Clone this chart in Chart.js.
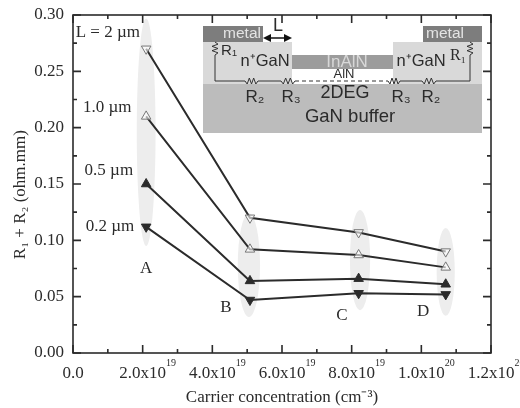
<!DOCTYPE html>
<html>
<head>
<meta charset="utf-8">
<style>
  html, body { margin: 0; padding: 0; background: #fff; }
  canvas { display: block; filter: blur(0.55px); }
</style>
<script src="https://cdn.jsdelivr.net/npm/chart.js@4"></script>
</head>
<body>
<canvas id="chart" width="520" height="408"></canvas>
<script>
const carrier = [2.1e19, 5.08e19, 8.2e19, 1.07e20];
const length2um = [0.27, 0.12, 0.107, 0.09];
const length1um = [0.21, 0.092, 0.087, 0.076];
const length05um = [0.15, 0.064, 0.066, 0.061];
const length02um = [0.112, 0.047, 0.053, 0.052];

const xTicks = [0, 2e19, 4e19, 6e19, 8e19, 1e20, 1.2e20];
const xTickLabels = ['0.0', '2.0x10', '4.0x10', '6.0x10', '8.0x10', '1.0x10', '1.2x10'];
const xTickPowers = ['', '19', '19', '19', '19', '20', '20'];
const yTicks = [0, 0.05, 0.1, 0.15, 0.2, 0.25, 0.3];
const yTickLabels = ['0.00', '0.05', '0.10', '0.15', '0.20', '0.25', '0.30'];

// grey groups A-D: [x, yTop, yBottom, xRadius]
const groups = [
    [2.1e19, 0.297, 0.095, 2.7e18],
    [5.05e19, 0.124, 0.032, 3.2e18],
    [8.24e19, 0.127, 0.038, 2.9e18],
    [1.07e20, 0.111, 0.033, 2.6e18]
];
const notes = [
    ['L = 2 µm', 1.0e19, 0.284],
    ['1.0 µm', 0.98e19, 0.218],
    ['0.5 µm', 1.03e19, 0.162],
    ['0.2 µm', 1.06e19, 0.112],
    ['A', 2.1e19, 0.0746],
    ['B', 4.39e19, 0.0408],
    ['C', 7.72e19, 0.0337],
    ['D', 1.005e20, 0.0364]
];

const ink = '#2b2b2b';
const serif = '"Liberation Serif", serif';
const sans = '"Liberation Sans", sans-serif';

function toPoints(values) {
    return values.map((v, i) => ({ x: carrier[i], y: v }));
}

function series(label, values, fill, rotation) {
    return {
        label: label,
        data: toPoints(values),
        borderColor: ink,
        borderWidth: 2,
        pointStyle: 'triangle',
        pointRadius: 5.5,
        pointRotation: rotation,
        pointBackgroundColor: fill,
        pointBorderColor: fill === ink ? ink : '#777',
        pointBorderWidth: 1
    };
}

// resistor symbol along a line
function zigzag(ctx, x1, y1, x2, y2) {
    const n = 6;
    ctx.beginPath();
    ctx.moveTo(x1, y1);
    for (let i = 1; i < n; i++) {
        const t = i / n;
        const off = i % 2 ? 3 : -3;
        const horizontal = y1 === y2;
        ctx.lineTo(x1 + (x2 - x1) * t + (horizontal ? 0 : off), y1 + (y2 - y1) * t + (horizontal ? off : 0));
    }
    ctx.lineTo(x2, y2);
    ctx.stroke();
}

function wire(ctx, pts) {
    ctx.beginPath();
    pts.forEach((p, i) => (i ? ctx.lineTo(p[0], p[1]) : ctx.moveTo(p[0], p[1])));
    ctx.stroke();
}

function label(ctx, text, x, y, font, color) {
    ctx.font = font;
    ctx.fillStyle = color || ink;
    ctx.fillText(text, x, y);
}

function drawInset(ctx) {
    ctx.save();
    ctx.fillStyle = '#bcbcbc';
    ctx.fillRect(203, 84, 279, 49);
    ctx.fillStyle = '#d9d9d9';
    ctx.fillRect(203, 42, 89, 42);
    ctx.fillRect(393, 42, 89, 42);
    ctx.fillStyle = '#7d7d7d';
    ctx.fillRect(203, 26, 60, 16);
    ctx.fillRect(423, 26, 59, 16);
    ctx.fillStyle = '#9c9c9c';
    ctx.fillRect(292, 55, 101, 14);

    ctx.textAlign = 'center';
    ctx.textBaseline = 'middle';
    label(ctx, 'metal', 242, 34, '15.5px ' + sans, '#e4e4e4');
    label(ctx, 'metal', 445, 34, '15.5px ' + sans, '#e4e4e4');
    label(ctx, 'InAlN', 347, 62, '17px ' + sans, '#d8d8d8');
    label(ctx, 'AlN', 344, 74, '13px ' + sans);
    label(ctx, 'n⁺GaN', 265, 61, '16.5px ' + sans);
    label(ctx, 'n⁺GaN', 421, 61, '16.5px ' + sans);
    label(ctx, 'R₁', 229, 51, '15px ' + sans);
    label(ctx, 'R₁', 458, 56, '16px ' + serif);
    label(ctx, 'R₂', 255, 97, '17px ' + sans);
    label(ctx, 'R₃', 291, 97, '17px ' + sans);
    label(ctx, '2DEG', 345, 93, '18px ' + sans);
    label(ctx, 'R₃', 401, 97, '17px ' + sans);
    label(ctx, 'R₂', 431, 97, '17px ' + sans);
    label(ctx, 'GaN buffer', 350, 117, '18.5px ' + sans);
    label(ctx, 'L', 278, 26, '18px ' + sans);

    ctx.strokeStyle = '#333';
    ctx.lineWidth = 1;
    wire(ctx, [[215, 55], [215, 81], [245, 81]]);
    zigzag(ctx, 245, 81, 258, 81);
    wire(ctx, [[258, 81], [281, 81]]);
    zigzag(ctx, 281, 81, 295, 81);
    ctx.setLineDash([4, 3]);
    wire(ctx, [[295, 81], [388, 81]]);
    ctx.setLineDash([]);
    zigzag(ctx, 388, 81, 400, 81);
    wire(ctx, [[400, 81], [422, 81]]);
    zigzag(ctx, 422, 81, 436, 81);
    wire(ctx, [[436, 81], [470, 81], [470, 55]]);
    zigzag(ctx, 215, 55, 215, 42);
    zigzag(ctx, 470, 55, 470, 42);

    // L arrow
    ctx.fillStyle = '#111';
    ctx.lineWidth = 1.5;
    ctx.strokeStyle = '#111';
    wire(ctx, [[266, 38], [289, 38]]);
    [[263, 38, 1], [292, 38, -1]].forEach(a => {
        ctx.beginPath();
        ctx.moveTo(a[0], a[1]);
        ctx.lineTo(a[0] + a[2] * 8, a[1] - 4);
        ctx.lineTo(a[0] + a[2] * 8, a[1] + 4);
        ctx.closePath();
        ctx.fill();
    });
    ctx.restore();
}

const groupsPlugin = {
    id: 'groups',
    beforeDatasetsDraw(chart) {
        const x = chart.scales.x, y = chart.scales.y, ctx = chart.ctx;
        ctx.save();
        ctx.fillStyle = '#ededed';
        groups.forEach(g => {
            const cx = x.getPixelForValue(g[0]);
            const top = y.getPixelForValue(g[1]);
            const bottom = y.getPixelForValue(g[2]);
            const rx = x.getPixelForValue(g[0] + g[3]) - cx;
            ctx.beginPath();
            ctx.ellipse(cx, (top + bottom) / 2, rx, (bottom - top) / 2, 0, 0, Math.PI * 2);
            ctx.fill();
        });
        ctx.restore();
    },
    afterDatasetsDraw(chart) {
        const x = chart.scales.x, y = chart.scales.y, ctx = chart.ctx;
        ctx.save();
        ctx.textAlign = 'center';
        ctx.textBaseline = 'middle';
        notes.forEach(n => {
            label(ctx, n[0], x.getPixelForValue(n[1]), y.getPixelForValue(n[2]), '17px ' + serif);
        });
        // powers of ten sit after the x tick labels
        ctx.textAlign = 'left';
        ctx.font = '17px ' + serif;
        const baseWidth = ctx.measureText(xTickLabels[1]).width;
        xTicks.forEach((v, i) => {
            if (xTickPowers[i]) {
                label(ctx, xTickPowers[i], x.getPixelForValue(v) + baseWidth / 2, 363, '10px ' + serif);
            }
        });
        ctx.restore();
        drawInset(ctx);
    }
};

// frame and inward ticks on all four sides
const framePlugin = {
    id: 'frame',
    afterDraw(chart) {
        const a = chart.chartArea, x = chart.scales.x, y = chart.scales.y, ctx = chart.ctx;
        ctx.save();
        ctx.strokeStyle = ink;
        ctx.lineWidth = 1.6;
        ctx.strokeRect(a.left, a.top, a.right - a.left, a.bottom - a.top);
        ctx.beginPath();
        for (let i = 0; i < xTicks.length; i++) {
            const px = x.getPixelForValue(xTicks[i]);
            ctx.moveTo(px, a.bottom); ctx.lineTo(px, a.bottom - 8);
            ctx.moveTo(px, a.top); ctx.lineTo(px, a.top + 8);
            if (i < xTicks.length - 1) {
                const mid = x.getPixelForValue((xTicks[i] + xTicks[i + 1]) / 2);
                ctx.moveTo(mid, a.bottom); ctx.lineTo(mid, a.bottom - 4);
                ctx.moveTo(mid, a.top); ctx.lineTo(mid, a.top + 4);
            }
        }
        for (let i = 0; i < yTicks.length; i++) {
            const py = y.getPixelForValue(yTicks[i]);
            ctx.moveTo(a.left, py); ctx.lineTo(a.left + 8, py);
            ctx.moveTo(a.right, py); ctx.lineTo(a.right - 8, py);
            if (i < yTicks.length - 1) {
                const mid = y.getPixelForValue((yTicks[i] + yTicks[i + 1]) / 2);
                ctx.moveTo(a.left, mid); ctx.lineTo(a.left + 4, mid);
                ctx.moveTo(a.right, mid); ctx.lineTo(a.right - 4, mid);
            }
        }
        ctx.stroke();
        ctx.restore();
    }
};

new Chart(document.getElementById('chart'), {
    type: 'line',
    data: {
        datasets: [
            series('L = 2 um', length2um, 'rgba(255,255,255,0.6)', 180),
            series('1.0 um', length1um, 'rgba(255,255,255,0.6)', 0),
            series('0.5 um', length05um, ink, 0),
            series('0.2 um', length02um, ink, 180)
        ]
    },
    plugins: [groupsPlugin, framePlugin],
    options: {
        responsive: false,
        animation: false,
        layout: { padding: { top: 15, right: 29, left: 0, bottom: 0 } },
        plugins: { legend: { display: false }, tooltip: { enabled: false } },
        scales: {
            x: {
                type: 'linear',
                min: 0,
                max: 1.2e20,
                afterBuildTicks(scale) { scale.ticks = xTicks.map(v => ({ value: v })); },
                afterFit(scale) { scale.height = 55; scale.paddingLeft = 0; scale.paddingRight = 0; },
                grid: { display: false, drawTicks: false },
                border: { display: false },
                ticks: {
                    maxRotation: 0,
                    autoSkip: false,
                    padding: 10,
                    color: ink,
                    font: { family: serif, size: 17 },
                    callback: (v, i) => xTickLabels[i]
                },
                title: {
                    display: true,
                    text: 'Carrier concentration (cm⁻³)',
                    color: ink,
                    font: { family: serif, size: 17 },
                    padding: { top: 2, bottom: 0 }
                }
            },
            y: {
                min: 0,
                max: 0.3,
                afterBuildTicks(scale) { scale.ticks = yTicks.map(v => ({ value: v })); },
                afterFit(scale) { scale.width = 73; scale.paddingTop = 0; scale.paddingBottom = 0; },
                grid: { display: false, drawTicks: false },
                border: { display: false },
                ticks: {
                    padding: 9,
                    color: ink,
                    font: { family: serif, size: 17 },
                    callback: (v, i) => yTickLabels[i]
                },
                title: {
                    display: true,
                    text: 'R₁ + R₂ (ohm.mm)     ',
                    color: ink,
                    font: { family: serif, size: 17 },
                    padding: { top: 10, bottom: 0 }
                }
            }
        }
    }
});
</script>
</body>
</html>
